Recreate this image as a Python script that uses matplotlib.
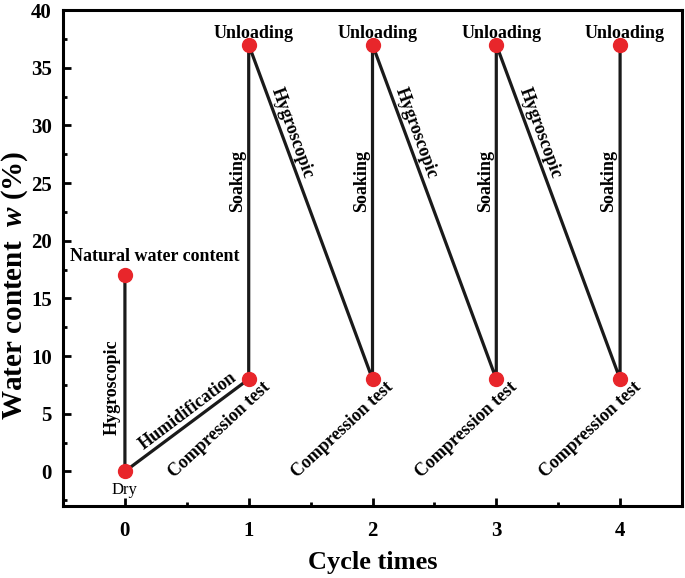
import matplotlib
matplotlib.use('Agg')
import matplotlib.pyplot as plt
from matplotlib.ticker import MultipleLocator

# path of the water content through the wetting/drying cycles
cycle = [0, 0, 1, 1, 2, 2, 3, 3, 4, 4]
water = [17, 0, 8, 37, 8, 37, 8, 37, 8, 37]

# stage labels
unload_x = [1, 2, 3, 4]
unload_w = 37
comp_x = [1, 2, 3, 4]
comp_w = 8

plt.rcParams['font.family'] = 'Liberation Serif'
plt.rcParams['font.weight'] = 'bold'
plt.rcParams['mathtext.fontset'] = 'custom'
plt.rcParams['mathtext.it'] = 'Liberation Serif:italic:bold'
plt.rcParams['mathtext.rm'] = 'Liberation Serif:bold'

fig = plt.figure(figsize=(6.85, 5.78), dpi=100)
ax = fig.add_axes([0.092, 0.1246, 0.9036, 0.858])

ax.plot(cycle, water, color='#1a1a1a', lw=2.3, zorder=2)
ax.plot(cycle, water, 'o', color='#e8262b', ms=10, zorder=3)

ax.set_xlim(-0.5, 4.5)
ax.set_ylim(-3, 40)
ax.xaxis.set_major_locator(MultipleLocator(1))
ax.xaxis.set_minor_locator(MultipleLocator(0.5))
ax.yaxis.set_major_locator(MultipleLocator(5))
ax.yaxis.set_minor_locator(MultipleLocator(2.5))
ax.tick_params(which='both', direction='in', width=2, labelsize=15, top=False, right=False)
ax.tick_params(which='major', length=6)
ax.tick_params(axis='y', which='major', pad=8)
ax.tick_params(axis='x', which='major', pad=11)
ax.tick_params(which='minor', length=3)
for s in ax.spines.values():
    s.set_linewidth(2.2)
for lab in ax.get_xticklabels() + ax.get_yticklabels():
    lab.set_fontweight('bold')

ax.set_xlabel('Cycle times', fontsize=19, fontweight='bold')
ax.set_ylabel(r'Water content  $w$ (%)', fontsize=21, fontweight='bold')
ax.xaxis.set_label_coords(0.5, -0.09)
ax.yaxis.set_label_coords(-0.054, 0.444)

tsz = 13
ax.text(0.24, 18.6, 'Natural water content', ha='center', va='center', fontsize=tsz)
ax.text(-0.1, 7.3, 'Hygroscopic', ha='center', va='center', rotation=90, fontsize=tsz)
ax.text(0.51, 5.2, 'Humidification', ha='center', va='center', rotation=37, fontsize=tsz)
ax.text(0, -1.6, 'Dry', ha='center', va='center', fontsize=12, fontweight='normal')
for x in unload_x:
    ax.text(x + 0.04, unload_w + 1.0, 'Unloading', ha='center', va='center', fontsize=tsz)
    ax.text(x - 0.09, 25.2, 'Soaking', ha='center', va='center', rotation=90, fontsize=tsz)
for x in comp_x:
    ax.text(x - 0.24, comp_w - 4.4, 'Compression test', ha='center', va='center', rotation=43, fontsize=tsz)
for x in unload_x[:-1]:
    ax.text(x + 0.35, 29.3, 'Hygroscopic', ha='center', va='center', rotation=-70, fontsize=tsz)

fig.savefig('out.png', dpi=100)
